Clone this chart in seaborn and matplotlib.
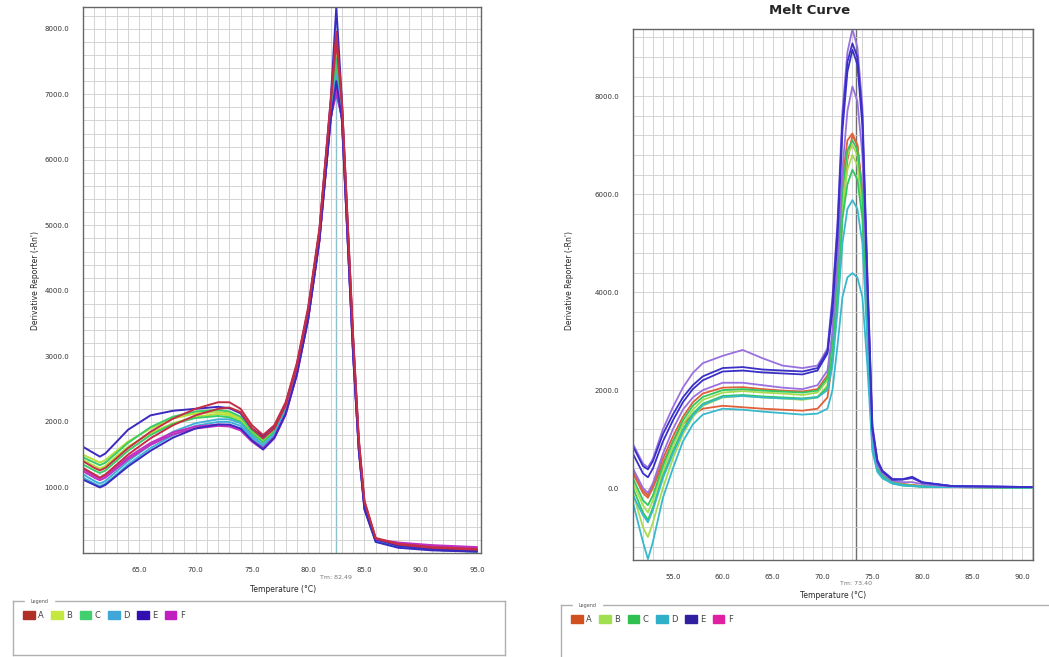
import numpy as np
import pandas as pd
import seaborn as sns
import matplotlib
matplotlib.use('Agg')
import matplotlib.pyplot as plt
from matplotlib.ticker import MultipleLocator
from matplotlib.patches import Patch

# ---- left run: temperature knots and derivative values per well
temp_left = [60, 61, 61.5, 62, 63, 64, 66, 68, 70, 72, 73, 74, 75, 76, 77, 78, 79, 80,
             81, 82, 82.5, 83, 83.5, 84, 84.5, 85, 86, 88, 91, 95]
left_A1 = [1400, 1300, 1260, 1300, 1450, 1600, 1850, 2050, 2200, 2300, 2300, 2200, 1950, 1800, 1950, 2300, 2900, 3750, 4950, 6900, 7950, 6900, 5100, 3300, 1750, 800, 230, 140, 90, 60]
left_A2 = [1300, 1200, 1150, 1200, 1350, 1500, 1750, 1950, 2100, 2200, 2220, 2150, 1900, 1750, 1900, 2250, 2850, 3700, 4900, 6850, 7800, 6850, 5050, 3250, 1700, 780, 220, 130, 80, 50]
left_B1 = [1500, 1420, 1380, 1420, 1560, 1700, 1900, 2050, 2130, 2150, 2130, 2050, 1850, 1720, 1880, 2230, 2830, 3650, 4850, 6750, 7600, 6750, 4950, 3150, 1650, 730, 200, 100, 60, 30]
left_B2 = [1420, 1330, 1290, 1330, 1480, 1620, 1830, 1980, 2080, 2120, 2100, 2020, 1830, 1700, 1860, 2200, 2800, 3620, 4820, 6700, 7450, 6700, 4900, 3100, 1620, 700, 190, 100, 60, 30]
left_C1 = [1460, 1380, 1340, 1380, 1530, 1680, 1920, 2080, 2160, 2180, 2160, 2080, 1870, 1740, 1900, 2250, 2850, 3670, 4870, 6780, 7550, 6780, 4980, 3180, 1660, 740, 210, 110, 60, 30]
left_C2 = [1350, 1260, 1220, 1260, 1410, 1560, 1800, 1970, 2060, 2090, 2070, 2000, 1820, 1690, 1850, 2200, 2800, 3620, 4820, 6720, 7400, 6720, 4920, 3120, 1630, 710, 190, 100, 50, 30]
left_D1 = [1200, 1100, 1060, 1100, 1250, 1400, 1650, 1850, 1980, 2040, 2040, 1980, 1790, 1650, 1820, 2180, 2780, 3600, 4800, 6650, 7300, 6650, 4850, 3050, 1600, 690, 180, 90, 50, 20]
left_D2 = [1150, 1060, 1020, 1060, 1200, 1350, 1600, 1800, 1940, 2000, 2000, 1940, 1760, 1620, 1790, 2150, 2750, 3580, 4780, 6620, 7250, 6620, 4820, 3020, 1580, 680, 170, 90, 50, 20]
left_E1 = [1620, 1520, 1470, 1520, 1700, 1880, 2100, 2170, 2200, 2230, 2210, 2130, 1900, 1780, 1940, 2280, 2880, 3720, 4920, 6900, 8330, 6900, 5050, 3250, 1700, 760, 210, 110, 60, 30]
left_E2 = [1120, 1040, 1000, 1040, 1180, 1320, 1560, 1760, 1900, 1960, 1960, 1900, 1720, 1580, 1760, 2120, 2720, 3560, 4760, 6600, 7200, 6600, 4800, 3000, 1560, 660, 170, 80, 40, 20]
left_F1 = [1280, 1180, 1140, 1180, 1320, 1460, 1680, 1840, 1930, 1960, 1950, 1890, 1720, 1600, 1770, 2130, 2740, 3580, 4780, 6650, 7000, 6650, 4850, 3050, 1600, 700, 200, 150, 110, 80]
left_F2 = [1250, 1150, 1110, 1150, 1290, 1430, 1650, 1810, 1900, 1940, 1930, 1870, 1700, 1580, 1750, 2110, 2720, 3560, 4760, 6620, 7100, 6620, 4820, 3020, 1580, 690, 210, 160, 120, 90]
left_tm = 82.49

# ---- right run
temp_right = [51, 52, 52.5, 53, 54, 55, 56, 57, 58, 60, 62, 64, 66, 68, 69.5, 70.5, 71, 71.5,
              72, 72.5, 73, 73.5, 74, 74.5, 75, 75.5, 76, 77, 78, 79, 80, 83, 91]
right_A1 = [300, -100, -200, 0, 500, 950, 1300, 1500, 1620, 1680, 1650, 1620, 1600, 1580, 1620, 1850, 2600, 3900, 5600, 6700, 7200, 7000, 6000, 3500, 950, 400, 250, 110, 80, 60, 40, 20, 10]
right_A2 = [350, -50, -150, 50, 600, 1050, 1450, 1750, 1930, 2050, 2060, 2020, 1990, 1970, 2020, 2300, 3100, 4500, 6300, 7100, 7240, 7000, 6100, 3600, 1000, 420, 260, 120, 80, 60, 40, 20, 10]
right_B1 = [100, -350, -500, -250, 350, 850, 1300, 1600, 1800, 1950, 1980, 1950, 1930, 1900, 1950, 2200, 2950, 4300, 6000, 6800, 7000, 6800, 5900, 3400, 950, 400, 250, 110, 70, 50, 30, 20, 10]
right_B2 = [-100, -800, -1000, -700, 0, 600, 1100, 1450, 1680, 1850, 1880, 1850, 1830, 1800, 1850, 2100, 2800, 4100, 5700, 6500, 6800, 6600, 5700, 3300, 900, 380, 240, 100, 60, 40, 30, 20, 10]
right_C1 = [200, -250, -350, -150, 450, 950, 1380, 1680, 1860, 2000, 2020, 1990, 1970, 1950, 1990, 2250, 3000, 4400, 6100, 6900, 7100, 6900, 6000, 3450, 960, 400, 250, 110, 70, 50, 30, 20, 10]
right_C2 = [0, -500, -650, -400, 250, 750, 1200, 1520, 1720, 1880, 1900, 1870, 1850, 1830, 1860, 2050, 2700, 3900, 5500, 6200, 6500, 6300, 5500, 3200, 880, 370, 230, 100, 60, 40, 30, 20, 10]
right_D1 = [-150, -550, -700, -450, 200, 700, 1150, 1480, 1700, 1860, 1880, 1850, 1830, 1820, 1850, 2000, 2500, 3600, 5000, 5700, 5880, 5700, 5000, 3000, 850, 360, 220, 100, 60, 40, 30, 20, 10]
right_D2 = [-300, -1100, -1450, -1100, -200, 400, 950, 1300, 1500, 1620, 1600, 1560, 1530, 1500, 1520, 1620, 2000, 2900, 3900, 4300, 4390, 4300, 3900, 2500, 750, 330, 200, 90, 50, 40, 30, 20, 10]
right_E1 = [850, 450, 380, 550, 1100, 1500, 1850, 2100, 2280, 2450, 2470, 2420, 2400, 2380, 2450, 2800, 3800, 5300, 7500, 8700, 9080, 8800, 7600, 4300, 1250, 560, 350, 180, 180, 230, 120, 40, 20]
right_E2 = [700, 300, 220, 400, 950, 1380, 1750, 2020, 2200, 2380, 2400, 2360, 2340, 2320, 2400, 2750, 3600, 5100, 7300, 8500, 8950, 8650, 7400, 4150, 1200, 540, 340, 170, 170, 210, 110, 40, 20]
right_F1 = [900, 500, 420, 600, 1200, 1650, 2050, 2350, 2550, 2700, 2820, 2650, 2500, 2450, 2500, 2850, 3900, 5400, 7700, 8900, 9370, 9000, 7800, 4400, 1300, 580, 360, 190, 180, 200, 110, 40, 20]
right_F2 = [400, 0, -100, 100, 700, 1200, 1600, 1850, 2000, 2150, 2150, 2100, 2050, 2020, 2100, 2400, 3200, 4600, 6500, 7700, 8200, 7900, 6800, 3900, 1100, 480, 300, 150, 120, 120, 80, 30, 20]
right_tm = 73.40

groups = ['A', 'B', 'C', 'D', 'E', 'F']
left_colors = {'A': '#c42d45', 'B': '#b8e03a', 'C': '#3acc66', 'D': '#40b0d8', 'E': '#3a2ac0', 'F': '#c030c0'}
right_colors = {'A': '#e0603a', 'B': '#a8dc50', 'C': '#30c860', 'D': '#38b8cc', 'E': '#3a30c8', 'F': '#9a70e0'}
legend_left = ['#b03028', '#c4e840', '#40d070', '#40a8d8', '#3010b0', '#c020c0']
legend_right = ['#d05020', '#a0e050', '#30c050', '#30b0c8', '#3020a0', '#e020a0']


def long_table(temps, wells):
    rows = []
    for name, vals in wells.items():
        for t, v in zip(temps, vals):
            rows.append((t, v, name))
    return pd.DataFrame(rows, columns=['temp', 'value', 'well'])


left_wells = {'B1': left_B1, 'B2': left_B2, 'C1': left_C1, 'C2': left_C2, 'D1': left_D1,
              'D2': left_D2, 'F1': left_F1, 'F2': left_F2, 'E1': left_E1, 'E2': left_E2,
              'A1': left_A1, 'A2': left_A2}
right_wells = {'A1': right_A1, 'A2': right_A2, 'B1': right_B1, 'B2': right_B2, 'C1': right_C1,
               'C2': right_C2, 'D1': right_D1, 'D2': right_D2, 'F2': right_F2, 'F1': right_F1,
               'E2': right_E2, 'E1': right_E1}
left_df = long_table(temp_left, left_wells)
right_df = long_table(temp_right, right_wells)

sns.set_style('white')
plt.rcParams['font.family'] = ['DejaVu Sans']

fig = plt.figure(figsize=(10.49, 6.57), dpi=100)
ax1 = fig.add_axes([0.0791, 0.1583, 0.3794, 0.831])
ax2 = fig.add_axes([0.6034, 0.1476, 0.3813, 0.808])

sns.lineplot(data=left_df, x='temp', y='value', hue='well', hue_order=list(left_wells),
             palette={w: left_colors[w[0]] for w in left_wells}, estimator=None, sort=False,
             legend=False, lw=1.4, ax=ax1)
sns.lineplot(data=right_df, x='temp', y='value', hue='well', hue_order=list(right_wells),
             palette={w: right_colors[w[0]] for w in right_wells}, estimator=None, sort=False,
             legend=False, lw=1.3, ax=ax2)

ax1.set_xlim(60, 95.35)
ax1.set_ylim(0, 8330)
ax1.set_xticks([65, 70, 75, 80, 85, 90, 95])
ax1.set_yticks([1000, 2000, 3000, 4000, 5000, 6000, 7000, 8000])
ax1.xaxis.set_minor_locator(MultipleLocator(1))
ax1.yaxis.set_minor_locator(MultipleLocator(200))
ax1.axvline(left_tm, color='#8cc0cc', lw=1.0, zorder=0)

ax2.set_xlim(51, 91.1)
ax2.set_ylim(-1470, 9370)
ax2.set_xticks([55, 60, 65, 70, 75, 80, 85, 90])
ax2.set_yticks([0, 2000, 4000, 6000, 8000])
ax2.xaxis.set_minor_locator(MultipleLocator(1))
ax2.yaxis.set_minor_locator(MultipleLocator(400))
ax2.axvline(right_tm, color='#707070', lw=1.0, zorder=0)

for ax, tm in [(ax1, left_tm), (ax2, right_tm)]:
    ax.grid(which='both', color='#cdcdcd', lw=0.6)
    ax.set_axisbelow(True)
    ax.xaxis.set_major_formatter(matplotlib.ticker.FormatStrFormatter('%.1f'))
    ax.yaxis.set_major_formatter(matplotlib.ticker.FormatStrFormatter('%.1f'))
    ax.tick_params(which='major', labelsize=5, length=2, pad=8, colors='#333333')
    ax.tick_params(which='minor', length=0)
    ax.set_xlabel('')
    ax.set_ylabel('')
    for s in ax.spines.values():
        s.set_color('#666666')
        s.set_linewidth(1.0)
    ax.text(tm, -0.045, 'Tm: %.2f' % tm, transform=ax.get_xaxis_transform(),
            fontsize=4.5, color='#777777', ha='center', va='center')

fig.text(283 / 1049, 1 - 590 / 657, 'Temperature (°C)', fontsize=5.5, ha='center', va='center')
fig.text(833 / 1049, 1 - 595 / 657, 'Temperature (°C)', fontsize=5.5, ha='center', va='center')
fig.text(35 / 1049, 1 - 280 / 657, "Derivative Reporter (-Rn')", fontsize=5.5, rotation=90,
         ha='center', va='center')
fig.text(570 / 1049, 1 - 280 / 657, "Derivative Reporter (-Rn')", fontsize=5.5, rotation=90,
         ha='center', va='center')
fig.text(810 / 1049, 1 - 11 / 657, 'Melt Curve', fontsize=9.5, fontweight='bold',
         ha='center', va='center')

# legend boxes
for rect, cols in [([13 / 1049, 2 / 657, 492 / 1049, 54 / 657], legend_left),
                   ([561 / 1049, -0.01, 0.48, 0.089], legend_right)]:
    lax = fig.add_axes(rect)
    lax.set_xticks([])
    lax.set_yticks([])
    for s in lax.spines.values():
        s.set_color('#b0b0b0')
        s.set_linewidth(1.0)
    handles = [Patch(facecolor=c, edgecolor=c) for c in cols]
    lax.legend(handles, groups, loc='upper left', ncol=6, frameon=False, fontsize=6,
               handlelength=1.4, handleheight=1.1, handletextpad=0.4, columnspacing=0.9,
               borderaxespad=0.8, labelcolor='#444444')
    lax.text(0.035, 1.0, 'Legend', transform=lax.transAxes, fontsize=3.5, color='#555555',
             va='center', ha='left', backgroundcolor='white')

fig.savefig('out.png', dpi=100)
